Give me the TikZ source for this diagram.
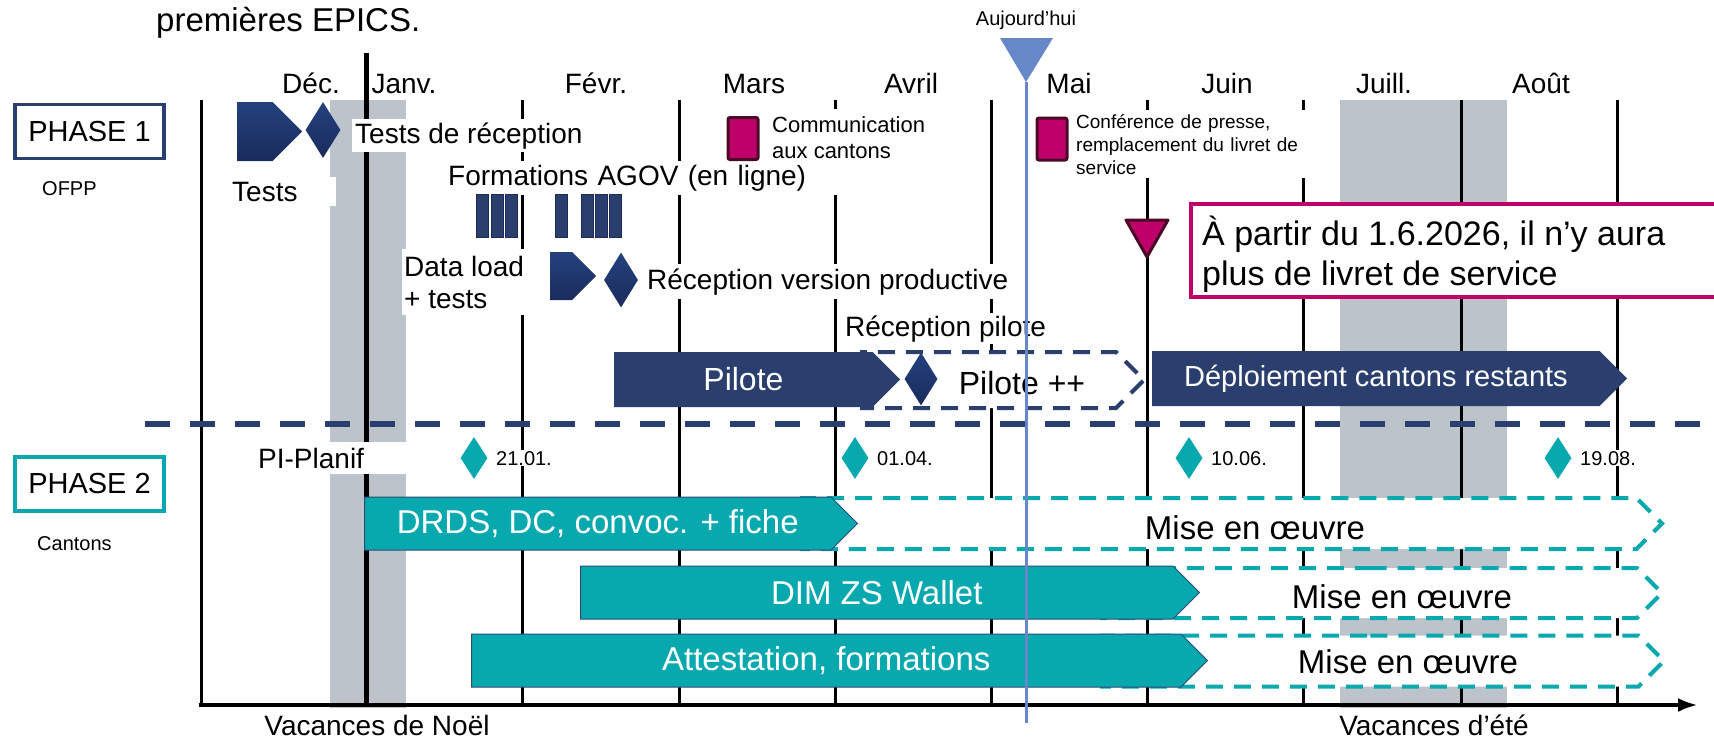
\documentclass[tikz,border=0pt]{standalone}
\usepackage{fontspec}
\setmainfont{Liberation Sans}
\usepackage{tikz}
\usetikzlibrary{shapes,arrows.meta}

\definecolor{phaseblue}{HTML}{2B3F6E}
\definecolor{navyhi}{HTML}{24417E}
\definecolor{navylo}{HTML}{1A2C5C}
\definecolor{cantonteal}{HTML}{08A8AF}
\definecolor{tealedge}{HTML}{2D4A78}
\definecolor{pressmag}{HTML}{C0006A}
\definecolor{pressdark}{HTML}{4A0A26}
\definecolor{holgrey}{HTML}{BDC3CA}
\definecolor{todayblue}{HTML}{6688C8}

\begin{document}
\begin{tikzpicture}[x=1pt, y=-1pt,
	monthlbl/.style={font=\fontsize{28}{32}\selectfont, anchor=base, inner sep=0},
	lbl/.style={font=\fontsize{28}{32}\selectfont, fill=white, inner xsep=3, inner ysep=5, anchor=base west},
	smalllbl/.style={font=\fontsize{20}{24}\selectfont, fill=white, inner sep=1, anchor=base west},
	phasebox/.style={draw, line width=3.5, minimum width=149, minimum height=54, inner sep=0, font=\fontsize{29}{34}\selectfont},
	arrowmark/.style={signal, signal to=east, signal from=nowhere, top color=navyhi, bottom color=navylo, inner sep=0, anchor=west},
	milestone/.style={diamond, top color=navyhi, bottom color=navylo, inner sep=0},
	datemark/.style={diamond, fill=cantonteal, inner sep=0, minimum width=27, minimum height=42},
	navybar/.style={signal, signal to=east, signal from=nowhere, fill=phaseblue, text=white, inner sep=0, minimum height=55, anchor=west},
	tealbar/.style={signal, signal to=east, signal from=nowhere, fill=cantonteal, draw=tealedge, line width=1, text=white, inner sep=0, minimum height=53, anchor=west, font=\fontsize{33}{38}\selectfont},
	openbar/.style={signal, signal to=east, signal from=nowhere, fill=white, line width=4, dash pattern=on 17pt off 11pt, inner sep=0, anchor=west},
	pressbox/.style={rectangle, fill=pressmag, draw=pressdark, line width=3, rounded corners=2, minimum width=30, minimum height=42, inner sep=0},
	stripe/.style={rectangle, fill=phaseblue, draw=navylo, line width=1, minimum width=12, minimum height=43, inner sep=0, anchor=west}
]
\useasboundingbox (0,0) rectangle (1714,740);

\fill[holgrey] (330,100) rectangle (406,708);
\fill[holgrey] (1340,100) rectangle (1507,708);
\foreach \x in {201,522,679,835,991,1147,1303,1461,1617}
	\draw[line width=3] (\x,100) -- (\x,703);
\draw[line width=5] (366,53) -- (366,703);
\draw[line width=4, -{Latex[length=20pt, width=14pt]}] (199,705) -- (1698,705);
\draw[phaseblue, line width=5.5, dash pattern=on 25pt off 20pt] (145,424) -- (1720,424);

\node[anchor=base west, inner sep=0, font=\fontsize{33}{38}\selectfont] (title) at (156,31) {premières EPICS.};
\foreach \m/\x in {Déc./311, Janv./404, Févr./596, Mars/754, Avril/911, Mai/1069, Juin/1227, Juill./1384, Août/1541}
	\node[monthlbl] (m\x) at (\x,93) {\m};

\node[phasebox, draw=phaseblue] (phase1) at (89.5,131.5) {PHASE 1};
\node[smalllbl] (ofpp) at (41,195) {OFPP};
\node[phasebox, draw=cantonteal] (phase2) at (89.5,484) {PHASE 2};
\node[smalllbl] (cantons) at (36,550) {Cantons};

\node[arrowmark, minimum width=65, minimum height=59] (tests) at (237,131.5) {};
\node[milestone, minimum width=35, minimum height=56] (testsok) at (323,130) {};
\node[lbl, inner ysep=3] (recept) at (352,143) {Tests de réception};
\node[lbl, text width=101, align=left] (testslbl) at (229,201) {Tests};
\node[lbl, text width=392, align=left, inner ysep=4] (agov) at (445,185) {Formations AGOV (en ligne)};
\foreach \x in {476,491,505,555,581,595,609}
	\node[stripe] (f\x) at (\x,215.5) {};
\node[lbl, anchor=north west, align=left, inner xsep=2, inner ysep=7] (dataload) at (402,248.6) {Data load\\+ tests};
\node[arrowmark, minimum width=46, minimum height=48] (prod) at (550,276) {};
\node[milestone, minimum width=34, minimum height=55] (prodok) at (621,280) {};
\node[lbl, inner ysep=4] (prodlbl) at (644,289) {Réception version productive};

\node[pressbox] (comm) at (743,138.5) {};
\node[lbl, anchor=north west, align=left, font=\fontsize{22}{26}\selectfont, inner xsep=2, inner ysep=7] (commlbl) at (770,109) {Communication\\aux cantons};
\node[pressbox] (press) at (1052,139) {};
\node[lbl, anchor=north west, align=left, text width=228, font=\fontsize{19}{23}\selectfont, inner xsep=2, inner ysep=4] (presslbl) at (1074,110) {Conférence de presse,\\remplacement du livret de\\service};

\node[draw=pressmag, line width=4, fill=white, minimum width=560, minimum height=93, inner sep=0, anchor=north west] (callout) at (1189,202) {};
\node[anchor=north west, inner sep=0, align=left, font=\fontsize{34}{40}\selectfont] (calltxt) at (1202,216) {À partir du 1.6.2026, il n’y aura\\plus de livret de service};
\filldraw[fill=pressmag, draw=pressdark, line width=3, line join=round] (1126,220) -- (1168,220) -- (1147,257) -- cycle;

\node[lbl, inner sep=2] (recpilote) at (843,336) {Réception pilote};
\node[openbar, draw=phaseblue, minimum width=282, minimum height=56] (pilotepp) at (860,380) {};
\node[anchor=base, inner sep=0, font=\fontsize{32}{38}\selectfont] (pppl) at (1022,394) {Pilote ++};
\node[navybar, minimum width=286, font=\fontsize{32}{38}\selectfont] (pilote) at (614,379.5) {Pilote};
\node[milestone, minimum width=33, minimum height=53] (piloteok) at (921,379) {};
\node[navybar, minimum width=475, font=\fontsize{29}{34}\selectfont] (deploy) at (1152,378.5) {Déploiement cantons restants};

\node[lbl, text width=145, align=left, inner ysep=5.6] (planif) at (255,468) {PI-Planif};
\foreach \x/\dt in {474/21.01., 855/01.04., 1189/10.06., 1558/19.08.}{
	\node[datemark] (d\x) at (\x,458) {};
	\node[smalllbl] (dl\x) at (\x+21,465) {\dt};
}

\node[openbar, draw=cantonteal, minimum width=860, minimum height=51] (mise1) at (800,523.5) {};
\node[openbar, draw=cantonteal, minimum width=560, minimum height=50] (mise2) at (1100,593) {};
\node[openbar, draw=cantonteal, minimum width=562, minimum height=51] (mise3) at (1100,661) {};
\node[anchor=base, inner sep=0, font=\fontsize{33}{38}\selectfont] (mise1lbl) at (1255,539) {Mise en œuvre};
\node[anchor=base, inner sep=0, font=\fontsize{33}{38}\selectfont] (mise2lbl) at (1402,608) {Mise en œuvre};
\node[anchor=base, inner sep=0, font=\fontsize{33}{38}\selectfont] (mise3lbl) at (1408,673) {Mise en œuvre};
\node[tealbar, minimum width=493] (drds) at (364,523.5) {DRDS, DC, convoc. + fiche};
\node[tealbar, minimum width=619, minimum height=53] (dim) at (580,592.5) {DIM ZS Wallet};
\node[tealbar, minimum width=736] (attest) at (471,660.5) {Attestation, formations};

\node[anchor=base, inner sep=0, font=\fontsize{28}{32}\selectfont] (noel) at (377,735) {Vacances de Noël};
\node[anchor=base, inner sep=0, font=\fontsize{28}{32}\selectfont] (ete) at (1434,735) {Vacances d’été};

\node[anchor=base, inner sep=0, font=\fontsize{20}{24}\selectfont] (today) at (1026,25) {Aujourd’hui};
\coordinate (todaytip) at (1026,82);
\fill[todayblue] (1000,38) -- (1053,38) -- (todaytip) -- cycle;
\draw[todayblue, line width=3] (todaytip) -- (1026,723);
\end{tikzpicture}
\end{document}
